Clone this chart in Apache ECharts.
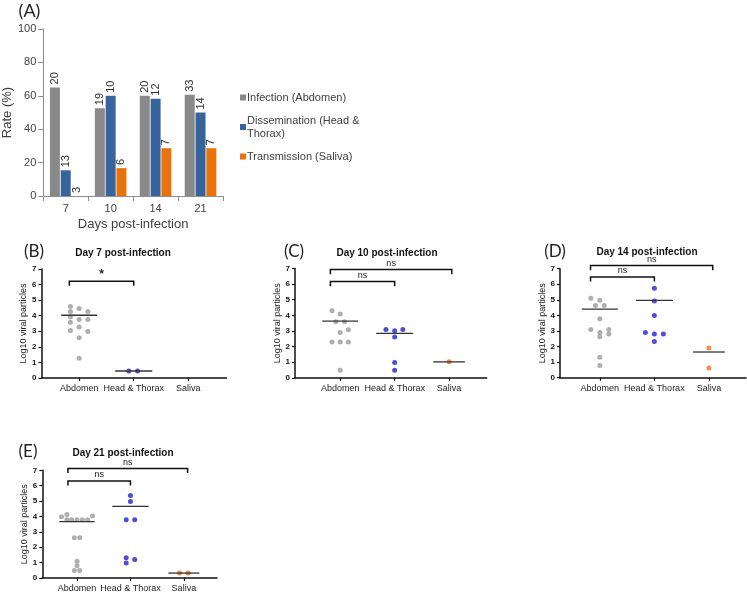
<!DOCTYPE html>
<html>
<head>
<meta charset="utf-8">
<script src="https://cdn.jsdelivr.net/npm/echarts@6/dist/echarts.min.js"></script>
<style>
html,body{margin:0;padding:0;background:#fff;}
#chart{width:747px;height:593px;}
</style>
</head>
<body>
<div id="chart"></div>
<script>
// ---------- Panel A data ----------
const daysA = ['7', '10', '14', '21'];
const infectionRate = [65, 52.6, 60, 60.6];
const disseminationRate = [15.4, 60, 58.3, 50];
const transmissionRate = [0, 16.7, 28.6, 28.6];
const infectionN = [20, 19, 20, 33];
const disseminationN = [13, 10, 12, 14];
const transmissionN = [3, 6, 7, 7];
const seriesNamesA = ['Infection (Abdomen)', 'Dissemination (Head &\nThorax)', 'Transmission (Saliva)'];

// ---------- Panels B-E data ----------
const tissues = ['Abdomen', 'Head & Thorax', 'Saliva'];
const yTicksViral = [0, 7, 1]; // min, max, interval

// Day 7
const bAbdomenY = [4.59, 4.46, 4.27, 4.27, 3.93, 3.76, 3.76, 3.58, 3.28, 3.05, 2.98, 2.58, 1.27];
const bAbdomenX = [-0.16, 0, -0.16, 0.16, -0.16, 0, 0.16, -0.16, 0, -0.16, 0.16, 0, 0];
const bHeadY = [0.45, 0.45];
const bHeadX = [-0.09, 0.07];
const bSalivaY = [];
const bSalivaX = [];
const bMedians = [4.03, 0.45, null];
const bBrackets = [[-0.18, 1.0, 6.22]];
const bBracketLabels = ['*'];

// Day 10
const cAbdomenY = [4.29, 4.08, 3.59, 3.59, 2.90, 3.07, 2.30, 2.30, 2.30, 0.49];
const cAbdomenX = [-0.15, 0, -0.08, 0.08, 0, 0.15, -0.15, 0, 0.15, 0];
const cHeadY = [3.09, 3.01, 3.09, 2.62, 0.98, 0.49];
const cHeadX = [-0.16, 0, 0.15, 0, 0, 0];
const cSalivaY = [1.02];
const cSalivaX = [0];
const cMedians = [3.63, 2.84, 1.02];
const cBrackets = [[-0.18, 1.0, 6.17], [-0.18, 2.05, 6.93]];
const cBracketLabels = ['ns', 'ns'];

// Day 14
const dAbdomenY = [5.10, 4.97, 4.63, 4.63, 3.79, 3.10, 2.91, 3.10, 2.63, 2.80, 1.31, 0.79];
const dAbdomenX = [-0.165, 0, -0.08, 0.08, 0, -0.165, 0, 0.165, 0, 0.165, 0, 0];
const dHeadY = [5.74, 4.93, 4.00, 2.91, 2.80, 2.80, 2.33];
const dHeadX = [0, 0, 0, -0.165, 0, 0.165, 0];
const dSalivaY = [1.91, 0.62];
const dSalivaX = [0, 0];
const dMedians = [4.41, 4.97, 1.65];
const dBrackets = [[-0.17, 1.0, 6.47], [-0.17, 2.07, 7.2]];
const dBracketLabels = ['ns', 'ns'];

// Day 21
const eAbdomenY = [3.98, 4.12, 3.78, 3.78, 3.78, 3.78, 3.78, 4.03, 2.62, 2.62, 1.09, 0.79, 0.49, 0.49];
const eAbdomenX = [-0.29, -0.19, -0.19, -0.1, 0, 0.1, 0.2, 0.29, -0.05, 0.05, 0, 0, -0.05, 0.05];
const eHeadY = [5.36, 4.98, 3.78, 3.78, 1.31, 1.20, 0.97];
const eHeadX = [0, 0, -0.08, 0.08, -0.08, 0.08, -0.08];
const eSalivaY = [0.32, 0.32];
const eSalivaX = [-0.08, 0.08];
const eMedians = [3.67, 4.66, 0.32];
const eBrackets = [[-0.17, 1.0, 6.31], [-0.17, 2.07, 7.12]];
const eBracketLabels = ['ns', 'ns'];

// ---------- layout / styling ----------
const barColors = ['#898989', '#38649c', '#e8720c'];
const dotColors = ['#9a9a9a', '#1f23cc', '#f0701e'];
const axisFont = 'Liberation Sans';

const panels = [
  { letter: '(B)', title: 'Day 7 post-infection', grid: { left: 41.5, top: 269, width: 185, height: 109 },
    xmin: -0.69, xmax: 2.70, xs: [bAbdomenX, bHeadX, bSalivaX], ys: [bAbdomenY, bHeadY, bSalivaY],
    medians: bMedians, brackets: bBrackets, bracketLabels: bBracketLabels,
    letterPos: [34, 252], titlePos: [123, 253] },
  { letter: '(C)', title: 'Day 10 post-infection', grid: { left: 295, top: 268.5, width: 191.7, height: 109.3 },
    xmin: -0.83, xmax: 2.69, xs: [cAbdomenX, cHeadX, cSalivaX], ys: [cAbdomenY, cHeadY, cSalivaY],
    medians: cMedians, brackets: cBrackets, bracketLabels: cBracketLabels,
    letterPos: [294, 252], titlePos: [387, 253] },
  { letter: '(D)', title: 'Day 14 post-infection', grid: { left: 560, top: 268.7, width: 186, height: 109 },
    xmin: -0.73, xmax: 2.68, xs: [dAbdomenX, dHeadX, dSalivaX], ys: [dAbdomenY, dHeadY, dSalivaY],
    medians: dMedians, brackets: dBrackets, bracketLabels: dBracketLabels,
    letterPos: [555, 252], titlePos: [647, 252.5] },
  { letter: '(E)', title: 'Day 21 post-infection', grid: { left: 42.3, top: 470.3, width: 174.7, height: 108.7 },
    xmin: -0.65, xmax: 2.62, xs: [eAbdomenX, eHeadX, eSalivaX], ys: [eAbdomenY, eHeadY, eSalivaY],
    medians: eMedians, brackets: eBrackets, bracketLabels: eBracketLabels,
    letterPos: [28, 452], titlePos: [123, 453.5] }
];
const medianHalfWidth = [0.33, 0.34, 0.29];

// ---------- build option ----------
const grids = [{ left: 41, top: 29, width: 182, height: 167 }];
const xAxes = [{
  gridIndex: 0, type: 'category', data: daysA,
  axisLine: { lineStyle: { color: '#8c8c8c', width: 1 } },
  axisTick: { show: true, length: 5, lineStyle: { color: '#8c8c8c' } },
  axisLabel: { fontFamily: axisFont, fontSize: 11, color: '#404040', margin: 7 },
  name: 'Days post-infection', nameLocation: 'middle', nameGap: 22,
  nameTextStyle: { fontFamily: axisFont, fontSize: 13, color: '#404040' }
}];
const yAxes = [{
  gridIndex: 0, type: 'value', min: 0, max: 100, interval: 20,
  axisLine: { show: true, lineStyle: { color: '#8c8c8c', width: 1 } },
  axisTick: { show: true, length: 5, lineStyle: { color: '#8c8c8c' } },
  splitLine: { show: false },
  axisLabel: { fontFamily: axisFont, fontSize: 11, color: '#404040', margin: 7 },
  name: 'Rate (%)', nameLocation: 'middle', nameGap: 27, nameRotate: 90,
  nameTextStyle: { fontFamily: axisFont, fontSize: 13, color: '#404040' }
}];

const barLabel = (ns) => ({
  show: true, position: 'top', rotate: 90, align: 'left', verticalAlign: 'middle', distance: 3,
  fontFamily: axisFont, fontSize: 11, color: '#303030',
  formatter: (p) => String(ns[p.dataIndex])
});
const series = [
  { name: seriesNamesA[0], type: 'bar', xAxisIndex: 0, yAxisIndex: 0, data: infectionRate,
    barWidth: 10, barGap: '8%', itemStyle: { color: barColors[0] }, label: barLabel(infectionN) },
  { name: seriesNamesA[1], type: 'bar', xAxisIndex: 0, yAxisIndex: 0, data: disseminationRate,
    barWidth: 10, barGap: '8%', itemStyle: { color: barColors[1] }, label: barLabel(disseminationN) },
  { name: seriesNamesA[2], type: 'bar', xAxisIndex: 0, yAxisIndex: 0, data: transmissionRate,
    barWidth: 10, barGap: '8%', itemStyle: { color: barColors[2] }, label: barLabel(transmissionN) }
];

const graphics = [
  { type: 'text', x: 29.5, y: 11, style: { text: '(A)', font: '18px Lato', fill: '#222', textAlign: 'center', textVerticalAlign: 'middle' } }
];

panels.forEach((p, k) => {
  const gi = k + 1;
  grids.push(p.grid);
  xAxes.push({
    gridIndex: gi, type: 'value', min: p.xmin, max: p.xmax,
    splitLine: { show: false },
    axisLine: { show: true, onZero: false, lineStyle: { color: '#111', width: 1.5 } },
    axisTick: { show: true, length: 3, customValues: [0, 1, 2], lineStyle: { color: '#111', width: 1.2 } },
    axisLabel: { customValues: [0, 1, 2], formatter: (v) => tissues[Math.round(v)] || '',
      fontFamily: axisFont, fontSize: 9, color: '#222', margin: 6 }
  });
  yAxes.push({
    gridIndex: gi, type: 'value', min: yTicksViral[0], max: yTicksViral[1], interval: yTicksViral[2],
    splitLine: { show: false },
    axisLine: { show: true, onZero: false, lineStyle: { color: '#111', width: 1.5 } },
    axisTick: { show: true, length: 3, lineStyle: { color: '#111', width: 1.2 } },
    axisLabel: { fontFamily: axisFont, fontSize: 8, fontWeight: 'bold', color: '#111', margin: 5 },
    name: 'Log10 viral particles', nameLocation: 'middle', nameGap: 12, nameRotate: 90,
    nameTextStyle: { fontFamily: axisFont, fontSize: 9, color: '#222' }
  });
  // points
  for (let t = 0; t < 3; t++) {
    const ys = p.ys[t], xs = p.xs[t];
    if (!ys.length) continue;
    series.push({
      type: 'scatter', xAxisIndex: gi, yAxisIndex: gi, symbolSize: 5, z: 2,
      itemStyle: { color: dotColors[t] },
      data: ys.map((y, i) => [t + xs[i], y])
    });
  }
  // medians
  const medData = [];
  p.medians.forEach((m, t) => { if (m != null) medData.push([t, m]); });
  series.push({
    type: 'custom', xAxisIndex: gi, yAxisIndex: gi, z: 3, clip: false,
    encode: { x: 0, y: 1 }, data: medData,
    renderItem: (params, api) => {
      const c = api.value(0), m = api.value(1);
      const hw = medianHalfWidth[c];
      const a = api.coord([c - hw, m]), b = api.coord([c + hw, m]);
      return { type: 'line', shape: { x1: a[0], y1: a[1], x2: b[0], y2: b[1] },
        style: { stroke: '#333', lineWidth: 1.3 } };
    }
  });
  // significance brackets
  series.push({
    type: 'custom', xAxisIndex: gi, yAxisIndex: gi, z: 4, clip: false,
    encode: { x: [0, 1], y: 2 }, data: p.brackets,
    renderItem: (params, api) => {
      const x0 = api.value(0), x1 = api.value(1), top = api.value(2);
      const drop = 0.3;
      const p1 = api.coord([x0, top - drop]), p2 = api.coord([x0, top]);
      const p3 = api.coord([x1, top]), p4 = api.coord([x1, top - drop]);
      const lbl = p.bracketLabels[params.dataIndex];
      return { type: 'group', children: [
        { type: 'polyline', shape: { points: [p1, p2, p3, p4] },
          style: { stroke: '#111', lineWidth: 1.5, fill: null } },
        { type: 'text', x: (p2[0] + p3[0]) / 2, y: p2[1] - (lbl === '*' ? 0 : 1.5),
          style: { text: lbl, font: lbl === '*' ? 'bold 12px Liberation Sans' : '9px Liberation Sans', fill: '#222',
            textAlign: 'center', textVerticalAlign: 'bottom' } }
      ] };
    }
  });
  graphics.push({ type: 'text', x: p.letterPos[0], y: p.letterPos[1],
    style: { text: p.letter, font: '17px Lato', fill: '#222', textAlign: 'center', textVerticalAlign: 'middle' } });
  graphics.push({ type: 'text', x: p.titlePos[0], y: p.titlePos[1],
    style: { text: p.title, font: 'bold 10px Liberation Sans', fill: '#111', textAlign: 'center', textVerticalAlign: 'middle' } });
});

const option = {
  animation: false,
  backgroundColor: '#fff',
  grid: grids,
  xAxis: xAxes,
  yAxis: yAxes,
  legend: {
    data: seriesNamesA, orient: 'vertical', left: 235, top: 86, itemGap: 10,
    itemWidth: 6, itemHeight: 6, icon: 'rect',
    textStyle: { fontFamily: axisFont, fontSize: 11, lineHeight: 13, color: '#404040', padding: [0, 0, 0, -4] }
  },
  graphic: graphics,
  series: series
};

const chart = echarts.init(document.getElementById('chart'), null, { renderer: 'canvas' });
chart.setOption(option);
</script>
</body>
</html>
